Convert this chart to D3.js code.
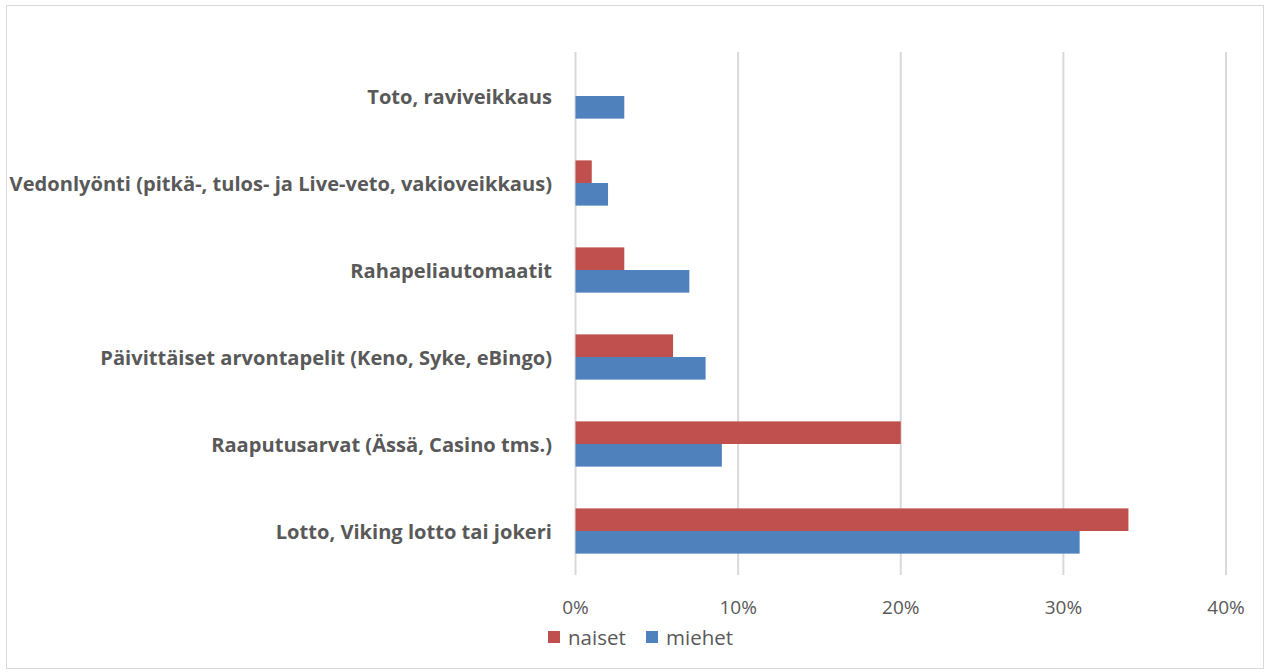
<!DOCTYPE html>
<html><head><meta charset="utf-8">
<script src="https://d3js.org/d3.v7.min.js"></script>
<style>body{margin:0;background:#fff;}svg{display:block;font-family:"Open Sans",Lato,sans-serif;}</style>
</head><body><svg id="c" width="1266" height="672"></svg>
<script>
const categories = ["Toto, raviveikkaus","Vedonlyönti (pitkä-, tulos- ja Live-veto, vakioveikkaus)","Rahapeliautomaatit","Päivittäiset arvontapelit (Keno, Syke, eBingo)","Raaputusarvat (Ässä, Casino tms.)","Lotto, Viking lotto tai jokeri"];
const naiset = [0,1,3,6,20,34];
const miehet = [3,2,7,8,9,31];
const ticks = [0,10,20,30,40];
const seriesNames = ["naiset","miehet"];
const colors = ["#c0504d","#4f81bd"];

const svg = d3.select("#c");
svg.append("rect").attr("x",6.5).attr("y",5.5).attr("width",1257).attr("height",663)
  .attr("fill","#fff").attr("stroke","#d9d9d9").attr("stroke-width",1);

const x = d3.scaleLinear().domain([0,40]).range([575.5,1226]);
const y = d3.scaleBand().domain(categories).range([52.5,574.5]).paddingInner(0.48).paddingOuter(0.24);
const sub = d3.scaleBand().domain(seriesNames).range([0,y.bandwidth()]);

svg.append("g").selectAll("line").data(ticks).join("line")
  .attr("x1",d=>x(d)).attr("x2",d=>x(d)).attr("y1",52).attr("y2",575)
  .attr("stroke","#d9d9d9").attr("stroke-width",2);

const data = [naiset, miehet];
seriesNames.forEach((s,i)=>{
  svg.append("g").selectAll("rect").data(categories).join("rect")
    .attr("x",x(0)).attr("y",c=>y(c)+sub(s))
    .attr("width",(c,j)=>x(data[i][j])-x(0)).attr("height",sub.bandwidth())
    .attr("fill",colors[i]);
});

svg.append("g").selectAll("text").data(categories).join("text")
  .attr("x",552).attr("y",c=>y(c)+y.bandwidth()/2)
  .attr("text-anchor","end").attr("dominant-baseline","central")
  .attr("font-weight","bold").attr("font-size",20.1).attr("fill","#595959")
  .text(d=>d);

svg.append("g").selectAll("text").data(ticks).join("text")
  .attr("x",d=>x(d)).attr("y",614).attr("text-anchor","middle")
  .attr("font-size",19).attr("fill","#595959").text(d=>d+"%");

const leg = svg.append("g");
const legX = [548,646];
seriesNames.forEach((s,i)=>{
  leg.append("rect").attr("x",legX[i]).attr("y",631).attr("width",12).attr("height",12).attr("fill",colors[i]);
  leg.append("text").attr("x",legX[i]+20).attr("y",645).attr("font-size",20.5).attr("fill","#595959").text(s);
});
</script></body></html>
